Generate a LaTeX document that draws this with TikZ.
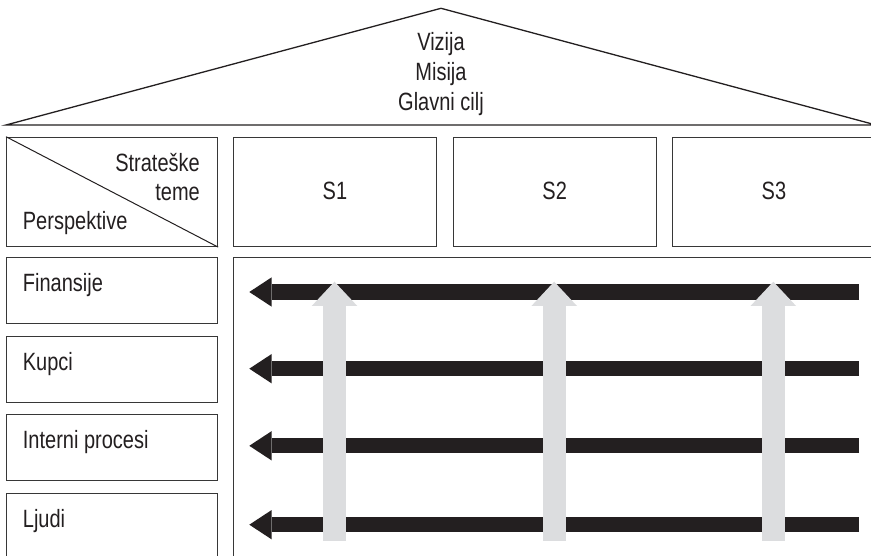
\documentclass[tikz,border=0pt]{standalone}
\usepackage{fontspec}
\setmainfont{Liberation Sans}[FakeStretch=0.8]
\usetikzlibrary{arrows.meta,calc}
\definecolor{ink}{RGB}{35,31,32}
\definecolor{lightbar}{RGB}{220,221,223}
\definecolor{edge}{RGB}{55,55,55}
\begin{document}
\begin{tikzpicture}[x=1pt,y=-1pt,
  box/.style={draw=edge, line width=1.1pt, rectangle, inner sep=0pt, anchor=north west},
  lbl/.style={text=ink, font=\fontsize{25}{30}\selectfont, inner sep=0pt},
  flow/.style={draw=ink, line width=15.3pt, -{Triangle[width=29.4pt,length=22.4pt,line width=0pt]}},
  lift/.style={draw=lightbar, line width=22.7pt, -{Triangle[width=45.6pt,length=24.3pt,line width=0pt]}}
]
\clip (0,0) rectangle (871,556);
\fill[white] (0,0) rectangle (871,556);

% roof
\coordinate (rl) at (6,125);
\coordinate (apex) at (441,8.3);
\coordinate (rr) at (876,125);
\draw[draw=ink, line width=1.3pt, line join=miter] (rl) -- (apex) -- (rr) -- cycle;
\node[lbl, anchor=base] (viz) at (441,51) {Vizija};
\node[lbl, anchor=base] (mis) at (441,81) {Misija};
\node[lbl, anchor=base] (cilj) at (441,111) {Glavni cilj};

% header row
\node[box, minimum width=211pt, minimum height=109.3pt] (persp) at (6,136.7) {};
\draw[draw=ink, line width=1pt] (persp.north west) -- (persp.south east);
\node[lbl, anchor=base east] (strat) at (200,172) {Strateške};
\node[lbl, anchor=base east] (teme) at (200,201) {teme};
\node[lbl, anchor=base west] (perspl) at (22.7,230) {Perspektive};

\node[box, minimum width=203.3pt, minimum height=109.3pt] (s1) at (232.7,136.7) {};
\node[box, minimum width=203.3pt, minimum height=109.3pt] (s2) at (452.5,136.7) {};
\node[box, minimum width=203.3pt, minimum height=109.3pt] (s3) at (671.7,136.7) {};
\node[lbl, anchor=base] (s1l) at ($(s1.north)+(0,63)$) {S1};
\node[lbl, anchor=base] (s2l) at ($(s2.north)+(0,63)$) {S2};
\node[lbl, anchor=base] (s3l) at ($(s3.north)+(0,63)$) {S3};

% perspective rows
\node[box, minimum width=211pt, minimum height=65.7pt] (fin) at (6,257) {};
\node[box, minimum width=211pt, minimum height=65.7pt] (kup) at (6,336) {};
\node[box, minimum width=211pt, minimum height=65.7pt] (int) at (6,414.3) {};
\node[box, minimum width=211pt, minimum height=65.7pt] (lju) at (6,493.3) {};
\node[lbl, anchor=base west] (finl) at ($(fin.north west)+(16.7,34.6)$) {Finansije};
\node[lbl, anchor=base west] (kupl) at ($(kup.north west)+(16.7,34.6)$) {Kupci};
\node[lbl, anchor=base west] (intl) at ($(int.north west)+(16.7,34.6)$) {Interni procesi};
\node[lbl, anchor=base west] (jul) at ($(lju.north west)+(16.7,34.6)$) {Ljudi};

% main field
\node[box, minimum width=660pt, minimum height=320pt] (field) at (232.7,257) {};

% black arrows
\coordinate (fR1) at (859,292);   \coordinate (fL1) at (249.3,292);
\coordinate (fR2) at (859,368.7); \coordinate (fL2) at (249.3,368.7);
\coordinate (fR3) at (859,445.8); \coordinate (fL3) at (249.3,445.8);
\coordinate (fR4) at (859,524.7); \coordinate (fL4) at (249.3,524.7);
\draw[flow] (fR1) -- (fL1);
\draw[flow] (fR2) -- (fL2);
\draw[flow] (fR3) -- (fL3);
\draw[flow] (fR4) -- (fL4);

% grey arrows
\coordinate (gB1) at (334.5,540.7); \coordinate (gT1) at (334.5,281.7);
\coordinate (gB2) at (554.2,540.7); \coordinate (gT2) at (554.2,281.7);
\coordinate (gB3) at (773.3,540.7); \coordinate (gT3) at (773.3,281.7);
\draw[lift] (gB1) -- (gT1);
\draw[lift] (gB2) -- (gT2);
\draw[lift] (gB3) -- (gT3);
\end{tikzpicture}
\end{document}
